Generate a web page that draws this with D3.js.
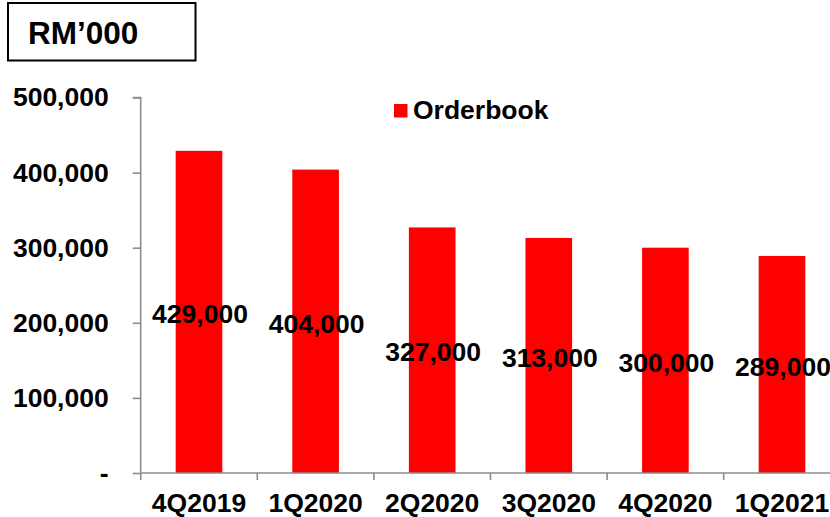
<!DOCTYPE html>
<html>
<head>
<meta charset="utf-8">
<script src="https://cdn.jsdelivr.net/npm/d3@7/dist/d3.min.js"></script>
<style>
  html, body { margin: 0; padding: 0; background: #fff; }
  svg { display: block; font-family: "Liberation Sans", Arial, sans-serif; font-weight: bold; }
</style>
</head>
<body>
<svg id="chart" width="830" height="517"></svg>
<script>
const categories = ["4Q2019", "1Q2020", "2Q2020", "3Q2020", "4Q2020", "1Q2021"];
const orderbook = [429000, 404000, 327000, 313000, 300000, 289000];
const yTicks = [0, 100000, 200000, 300000, 400000, 500000];
const seriesName = "Orderbook";
const unitLabel = "RM\u2019000";

const svg = d3.select("#chart");
const x0 = 140.7, x1 = 840.3, yBase = 473, yTop = 97.5;

const x = d3.scaleBand().domain(categories).range([x0, x1]).paddingInner(0.6).paddingOuter(0.3);
const y = d3.scaleLinear().domain([0, 500000]).range([yBase, yTop]);
const axisColor = "#8c8c8c";

// bars
svg.append("g").selectAll("rect").data(categories).join("rect")
  .attr("x", d => x(d))
  .attr("width", x.bandwidth())
  .attr("y", (d, i) => y(orderbook[i]))
  .attr("height", (d, i) => y(0) - y(orderbook[i]))
  .attr("fill", "#ff0000");

// y axis
const yAxis = d3.axisLeft(y).tickValues(yTicks).tickSize(8).tickPadding(24)
  .tickFormat(d => d === 0 ? "-" : d3.format(",")(d));
const gy = svg.append("g").attr("transform", `translate(${x0},0)`).call(yAxis);
gy.select(".domain").attr("stroke", axisColor).attr("stroke-width", 1.6).attr("d", `M-8,${yTop}H0V${yBase}`);
gy.selectAll(".tick line").attr("stroke", axisColor).attr("stroke-width", 1.6);
gy.selectAll(".tick text").attr("fill", "#000").style("font-size", "26.5px").style("font-weight", "bold")
  .style("font-family", '"Liberation Sans", Arial, sans-serif');

// x axis
const step = x.step();
const boundaries = categories.map(d => x(d) + x.bandwidth() / 2 - step / 2).concat([x(categories[categories.length-1]) + x.bandwidth()/2 + step/2]);
const gx = svg.append("g");
gx.append("line").attr("x1", x0).attr("x2", x1).attr("y1", yBase).attr("y2", yBase)
  .attr("stroke", axisColor).attr("stroke-width", 1.6);
gx.selectAll("line.tk").data(boundaries).join("line").attr("class", "tk")
  .attr("x1", d => d).attr("x2", d => d).attr("y1", yBase).attr("y2", yBase + 7)
  .attr("stroke", axisColor).attr("stroke-width", 1.6);
gx.selectAll("text").data(categories).join("text")
  .attr("x", d => x(d) + x.bandwidth() / 2)
  .attr("y", 512)
  .attr("text-anchor", "middle")
  .style("font-size", "26.5px")
  .text(d => d);

// data labels
svg.append("g").selectAll("text").data(categories).join("text")
  .attr("x", d => x(d) + x.bandwidth() / 2 + 1)
  .attr("y", (d, i) => (y(orderbook[i]) + y(0)) / 2 + 2)
  .attr("dy", "0.35em")
  .attr("text-anchor", "middle")
  .style("font-size", "26.5px")
  .attr("fill", "#000")
  .text((d, i) => d3.format(",")(orderbook[i]));

// legend
svg.append("rect").attr("x", 394).attr("y", 104).attr("width", 13.5).attr("height", 13.5).attr("fill", "#ff0000");
svg.append("text").attr("x", 413).attr("y", 119).style("font-size", "26.5px").text(seriesName);

// unit box
svg.append("rect").attr("x", 8).attr("y", 3).attr("width", 187.5).attr("height", 57.5)
  .attr("fill", "none").attr("stroke", "#000").attr("stroke-width", 2);
svg.append("text").attr("x", 28).attr("y", 43.5).style("font-size", "31.5px").text(unitLabel);
</script>
</body>
</html>
